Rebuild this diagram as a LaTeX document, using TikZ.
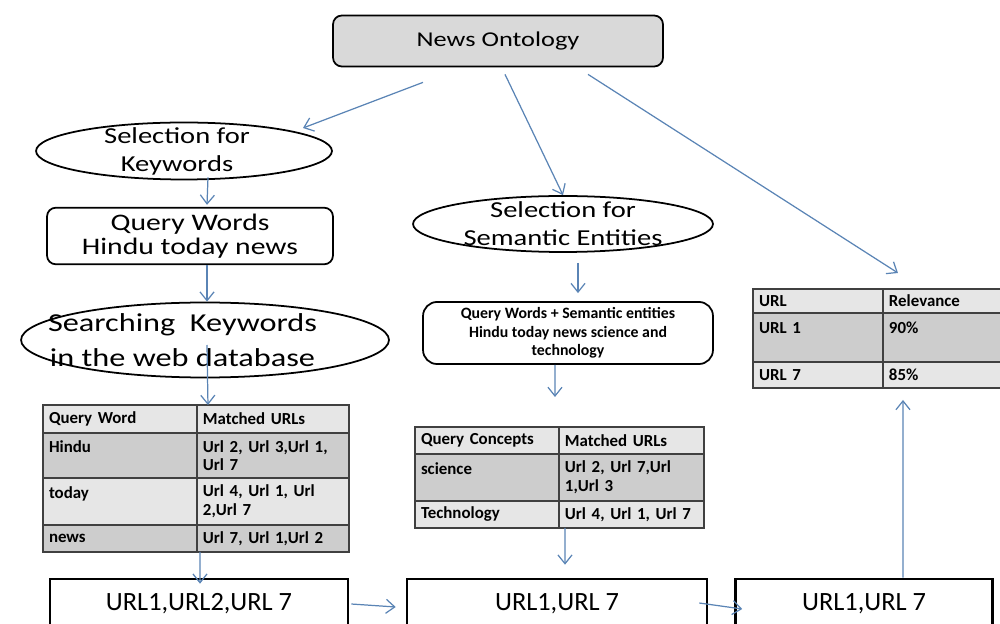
\documentclass[tikz,border=0pt]{standalone}
\usepackage{fontspec}
\setmainfont{Carlito}
\newfontfamily\widefont[FakeStretch=1.25]{Carlito}
\usepackage{xcolor}
\usepackage{tikz}
\usetikzlibrary{shapes,arrows.meta,positioning}

\definecolor{flowblue}{HTML}{5A84B5}
\definecolor{ontofill}{HTML}{D9D9D9}
\definecolor{rowlight}{HTML}{E6E6E6}
\definecolor{rowdark}{HTML}{CDCDCD}
\definecolor{gridline}{HTML}{404040}

\tikzset{
  flow/.style={draw=flowblue, line width=0.7pt, -{Straight Barb[length=5pt,width=8pt]}},
  oval/.style={ellipse, draw, line width=1pt, inner sep=0pt},
  ovaltext/.style={align=center, font=\widefont\fontsize{13}{16}\selectfont},
  querybox/.style={draw, line width=1pt, rounded corners=5pt, align=center},
  urlbox/.style={draw, line width=1.5pt, minimum height=1cm, font=\fontsize{15}{17}\selectfont},
  cell/.style={draw=gridline, line width=1.2pt, anchor=north west, outer sep=0pt, align=left,
    inner xsep=0.12cm, inner ysep=0pt, font=\bfseries\fontsize{9.6}{10.6}\selectfont},
}

\begin{document}
\begin{tikzpicture}[x=0.02cm, y=-0.02cm]
  \useasboundingbox (0,0) rectangle (1000,624);

  % top
  \node[querybox, fill=ontofill, minimum width=6.6cm, minimum height=1.02cm,
        font=\widefont\fontsize{12}{14}\selectfont] (onto) at (498,41) {News Ontology};

  % keyword branch
  \node[oval, minimum width=5.92cm, minimum height=1.14cm,
        label={[ovaltext, xshift=-0.14cm]center:Selection for\\Keywords}] (selkw) at (184,151) {};
  \node[querybox, minimum width=5.72cm, minimum height=0.96cm,
        font=\widefont\fontsize{13.5}{14}\selectfont] (qwords) at (190,236) {Query Words\\Hindu today news};
  \node[oval, minimum width=7.36cm, minimum height=1.5cm,
        label={[ovaltext, xshift=-0.45cm, font=\widefont\fontsize{14.7}{20}\selectfont]center:Searching~~Keywords\\in the web database}] (search) at (205,340) {};

  % keyword table
  \node[cell, fill=rowlight, text width=2.84cm, minimum height=0.56cm] (qwhead) at (43,405) {Query Word};
  \node[cell, fill=rowlight, text width=2.80cm, minimum height=0.56cm] (muhead) at (qwhead.north east) {Matched URLs};
  \node[cell, fill=rowdark, text width=2.84cm, minimum height=0.9cm] (qwhindu) at (qwhead.south west) {Hindu\\\mbox{}};
  \node[cell, fill=rowdark, text width=2.80cm, minimum height=0.9cm] (muhindu) at (qwhindu.north east) {Url 2, Url 3,Url 1,\\Url 7};
  \node[cell, fill=rowlight, text width=2.84cm, minimum height=0.94cm] (qwtoday) at (qwhindu.south west) {today\\\mbox{}};
  \node[cell, fill=rowlight, text width=2.80cm, minimum height=0.94cm] (mutoday) at (qwtoday.north east) {Url 4, Url 1, Url\\2,Url 7};
  \node[cell, fill=rowdark, text width=2.84cm, minimum height=0.54cm] (qwnews) at (qwtoday.south west) {news};
  \node[cell, fill=rowdark, text width=2.80cm, minimum height=0.54cm] (munews) at (qwnews.north east) {Url 7, Url 1,Url 2};

  % semantic branch
  \node[oval, minimum width=6.0cm, minimum height=1.12cm,
        label={[ovaltext]center:Selection for\\Semantic Entities}] (selsem) at (563,224) {};
  \node[querybox, rounded corners=8pt, minimum width=5.8cm, minimum height=1.18cm,
        font=\bfseries\fontsize{9}{10.4}\selectfont] (qws) at (568,333)
        {Query Words + Semantic entities\\Hindu today news  science and\\technology};

  % concept table
  \node[cell, fill=rowlight, text width=2.64cm, minimum height=0.54cm] (cchead) at (415,427) {Query Concepts};
  \node[cell, fill=rowlight, text width=2.66cm, minimum height=0.54cm] (cuhead) at (cchead.north east) {Matched URLs};
  \node[cell, fill=rowdark, text width=2.64cm, minimum height=0.94cm] (ccsci) at (cchead.south west) {science\\\mbox{}};
  \node[cell, fill=rowdark, text width=2.66cm, minimum height=0.94cm] (cusci) at (ccsci.north east) {Url 2, Url 7,Url\\1,Url 3};
  \node[cell, fill=rowlight, text width=2.64cm, minimum height=0.54cm] (cctech) at (ccsci.south west) {Technology};
  \node[cell, fill=rowlight, text width=2.66cm, minimum height=0.54cm] (cutech) at (cctech.north east) {Url 4, Url 1, Url 7};

  % relevance table
  \node[cell, fill=rowlight, text width=2.36cm, minimum height=0.48cm] (relhead) at (753,289) {URL};
  \node[cell, fill=rowlight, text width=2.56cm, minimum height=0.48cm] (rvhead) at (relhead.north east) {Relevance};
  \node[cell, fill=rowdark, text width=2.36cm, minimum height=0.98cm] (relurl1) at (relhead.south west) {URL 1\\\mbox{}};
  \node[cell, fill=rowdark, text width=2.56cm, minimum height=0.98cm] (rvurl1) at (relurl1.north east) {90\%\\\mbox{}};
  \node[cell, fill=rowlight, text width=2.36cm, minimum height=0.52cm] (relurl7) at (relurl1.south west) {URL 7};
  \node[cell, fill=rowlight, text width=2.56cm, minimum height=0.52cm] (rvurl7) at (relurl7.north east) {85\%};

  % results
  \node[urlbox, minimum width=5.96cm] (res1) at (199,604) {URL1,URL2,URL 7};
  \node[urlbox, minimum width=6.0cm] (res2) at (557,604) {URL1,URL 7};
  \node[urlbox, minimum width=5.14cm] (res3) at (864,604) {URL1,URL 7};

  % connectors
  \draw[flow] ([shift={(-75,15)}]onto.south) -- ([shift={(119,-23)}]selkw.center);
  \draw[flow] ([shift={(7,7)}]onto.south) -- (selsem.north);
  \draw[flow] ([shift={(90,7)}]onto.south) -- ([shift={(15,-16)}]relhead.north east);
  \draw[flow] ([shift={(24,-3)}]selkw.south) -- ([shift={(17,-2)}]qwords.north);
  \draw[flow] ([shift={(17,0)}]qwords.south) -- ([shift={(2,0)}]search.north);
  \draw[flow] ([shift={(2,5)}]search.center) -- ([shift={(11,0)}]muhead.north west);
  \draw[flow] ([shift={(3,0)}]munews.south west) -- ([shift={(1,6)}]res1.north);
  \draw[flow] ([shift={(15,10)}]selsem.south) -- ([shift={(10,-8)}]qws.north);
  \draw[flow] ([shift={(-13,0)}]qws.south) -- ([shift={(-4,-30)}]cchead.north east);
  \draw[flow] ([shift={(6,0)}]cutech.south west) -- ([shift={(8,-13)}]res2.north);
  \draw[flow] ([shift={(39,0)}]res3.north) -- ([shift={(20,12)}]rvurl7.south west);
  \draw[flow] ([shift={(2,0)}]res1.east) -- ([shift={(-10,3)}]res2.west);
  \draw[flow] ([shift={(-9,-1)}]res2.east) -- ([shift={(8,5)}]res3.west);
\end{tikzpicture}
\end{document}
